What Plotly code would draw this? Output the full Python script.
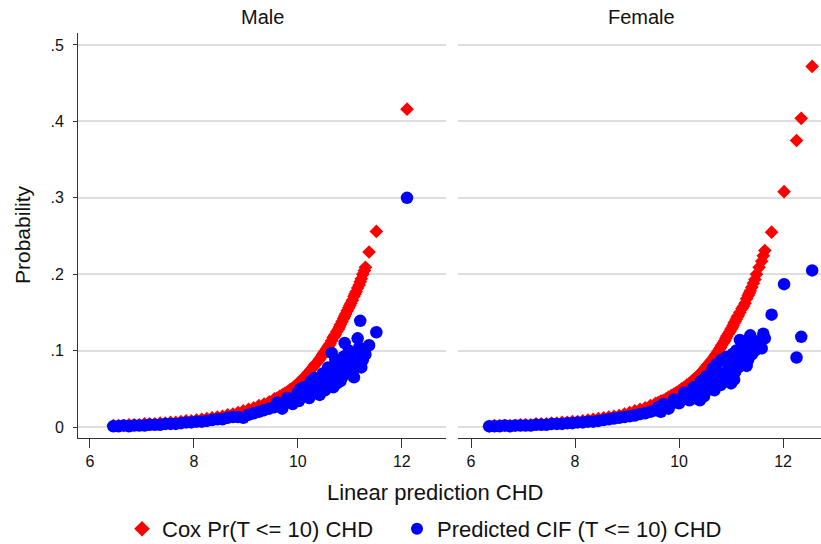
import plotly.graph_objects as go

# ---------------- data ----------------
male_lp = [6.45, 6.55, 6.65, 6.75, 6.85, 6.95, 7.05, 7.15, 7.25, 7.35, 7.45, 7.55, 7.65, 7.75,
           7.85, 7.95, 8.05, 8.15, 8.25, 8.35, 8.45, 8.55, 8.65, 8.75, 8.85, 8.95, 9.05, 9.15,
           9.25, 9.35, 9.45, 9.55, 9.65, 9.75, 9.85, 9.95, 10.0, 10.05, 10.1, 10.15, 10.2, 10.25,
           10.3, 10.35, 10.4, 10.45, 10.5, 10.55, 10.6, 10.65, 10.7, 10.75, 10.8, 10.85, 10.9,
           10.95, 11.0, 11.05, 11.1, 11.15, 11.2, 11.25, 11.3, 11.37, 11.51, 12.1,
           9.6, 9.7, 9.8, 9.9, 10.02, 10.12, 10.22, 10.32, 10.42, 10.48, 10.52, 10.58, 10.62,
           10.68, 10.72, 10.78, 10.82, 10.88, 10.92, 10.98, 11.02, 11.08, 11.12, 11.18, 11.22, 11.28]
male_cox = [0.002, 0.002, 0.002, 0.003, 0.003, 0.003, 0.004, 0.004, 0.004, 0.005, 0.005, 0.006,
            0.006, 0.007, 0.008, 0.008, 0.009, 0.010, 0.011, 0.012, 0.013, 0.014, 0.016, 0.017,
            0.019, 0.021, 0.023, 0.025, 0.028, 0.030, 0.033, 0.037, 0.040, 0.044, 0.049, 0.054,
            0.057, 0.060, 0.063, 0.067, 0.071, 0.075, 0.079, 0.083, 0.087, 0.092, 0.097, 0.102,
            0.107, 0.113, 0.119, 0.125, 0.131, 0.138, 0.145, 0.152, 0.159, 0.166, 0.174, 0.182,
            0.190, 0.200, 0.209, 0.229, 0.256, 0.416,
            0.038, 0.042, 0.046, 0.051, 0.058, 0.065, 0.072, 0.081, 0.089, 0.095, 0.099, 0.105,
            0.109, 0.117, 0.121, 0.128, 0.134, 0.142, 0.148, 0.156, 0.162, 0.171, 0.177, 0.186,
            0.194, 0.205]
male_cif = [0.001, 0.001, 0.002, 0.001, 0.002, 0.002, 0.002, 0.003, 0.003, 0.003, 0.004, 0.004,
            0.004, 0.005, 0.006, 0.006, 0.007, 0.007, 0.008, 0.009, 0.010, 0.010, 0.012, 0.013,
            0.013, 0.012, 0.016, 0.018, 0.020, 0.022, 0.024, 0.026, 0.028, 0.031, 0.034, 0.037,
            0.045, 0.050, 0.040, 0.048, 0.044, 0.060, 0.047, 0.055, 0.050, 0.060, 0.054, 0.068,
            0.060, 0.097, 0.075, 0.057, 0.082, 0.065, 0.110, 0.078, 0.090, 0.070, 0.085, 0.116,
            0.139, 0.088, 0.095, 0.107, 0.124, 0.300,
            0.032, 0.024, 0.038, 0.030, 0.034, 0.052, 0.038, 0.064, 0.042, 0.070, 0.048, 0.078,
            0.066, 0.052, 0.088, 0.070, 0.060, 0.092, 0.072, 0.100, 0.082, 0.065, 0.098, 0.104,
            0.078, 0.100]

female_lp = [6.35, 6.45, 6.55, 6.65, 6.75, 6.85, 6.95, 7.05, 7.15, 7.25, 7.35, 7.45, 7.55, 7.65,
             7.75, 7.85, 7.95, 8.05, 8.15, 8.25, 8.35, 8.45, 8.55, 8.65, 8.75, 8.85, 8.95, 9.05,
             9.15, 9.25, 9.35, 9.45, 9.55, 9.65, 9.75, 9.85, 9.95, 10.05, 10.15, 10.25, 10.3,
             10.35, 10.4, 10.45, 10.5, 10.55, 10.6, 10.65, 10.7, 10.75, 10.8, 10.85, 10.9, 10.95,
             11.0, 11.04, 11.08, 11.12, 11.17, 11.21, 11.27, 11.3, 11.33, 11.37, 11.43, 11.46,
             11.49, 11.54, 11.59, 11.62, 11.65, 11.78, 12.02, 12.26, 12.35, 12.56,
             9.6, 9.7, 9.8, 9.9, 10.0, 10.1, 10.2, 10.28, 10.38, 10.42, 10.48, 10.52, 10.58,
             10.62, 10.68, 10.72, 10.78, 10.82, 10.88, 10.92, 10.98, 11.02, 11.06, 11.1, 11.14,
             11.24, 11.35, 11.4]
female_cox = [0.001, 0.002, 0.002, 0.002, 0.002, 0.002, 0.003, 0.003, 0.003, 0.004, 0.004, 0.004,
              0.005, 0.005, 0.006, 0.006, 0.007, 0.007, 0.008, 0.009, 0.010, 0.011, 0.012, 0.013,
              0.014, 0.015, 0.017, 0.019, 0.021, 0.023, 0.025, 0.028, 0.031, 0.034, 0.037, 0.041,
              0.045, 0.050, 0.055, 0.060, 0.063, 0.066, 0.069, 0.073, 0.077, 0.081, 0.085, 0.089,
              0.094, 0.099, 0.104, 0.110, 0.116, 0.122, 0.128, 0.133, 0.138, 0.144, 0.150, 0.155,
              0.162, 0.168, 0.172, 0.178, 0.188, 0.193, 0.200, 0.209, 0.217, 0.224, 0.231, 0.255,
              0.308, 0.375, 0.404, 0.472,
              0.032, 0.035, 0.039, 0.043, 0.047, 0.052, 0.057, 0.062, 0.068, 0.071, 0.075, 0.079,
              0.083, 0.087, 0.092, 0.096, 0.102, 0.107, 0.113, 0.119, 0.125, 0.130, 0.136, 0.141,
              0.146, 0.158, 0.175, 0.183]
female_cif = [0.001, 0.001, 0.001, 0.002, 0.001, 0.002, 0.002, 0.002, 0.002, 0.003, 0.003, 0.003,
              0.004, 0.004, 0.004, 0.005, 0.005, 0.006, 0.006, 0.007, 0.007, 0.008, 0.009, 0.010,
              0.011, 0.012, 0.013, 0.014, 0.015, 0.017, 0.018, 0.020, 0.022, 0.020, 0.027, 0.030,
              0.033, 0.036, 0.040, 0.044, 0.038, 0.048, 0.035, 0.052, 0.045, 0.058, 0.050, 0.077,
              0.060, 0.066, 0.055, 0.070, 0.062, 0.080, 0.057, 0.096, 0.072, 0.085, 0.114, 0.095,
              0.105, 0.080, 0.088, 0.120, 0.110, 0.100, 0.112, 0.108, 0.103, 0.122, 0.116, 0.147,
              0.187, 0.091, 0.118, 0.205,
              0.026, 0.030, 0.024, 0.036, 0.031, 0.045, 0.035, 0.052, 0.042, 0.060, 0.040, 0.066,
              0.052, 0.070, 0.048, 0.082, 0.058, 0.088, 0.068, 0.092, 0.075, 0.085, 0.062, 0.100,
              0.078, 0.092, 0.112, 0.095]

panel_titles = ["Male", "Female"]
legend_names = ["Cox Pr(T <= 10) CHD", "Predicted CIF (T <= 10) CHD"]
x_ticks = [6, 8, 10, 12]
x_ticktext = ["6", "8", "10", "12"]
y_ticks = [0, 0.1, 0.2, 0.3, 0.4, 0.5]
y_ticktext = ["0", ".1", ".2", ".3", ".4", ".5"]

# ---------------- figure ----------------
W, H = 821, 544
FONT = "Liberation Sans, Arial, sans-serif"
RED = "#ff0000"
BLUE = "#0000ff"
GRID = "#dedede"
AX = "#333333"

fig = go.Figure()

panels = [(male_lp, male_cox, male_cif, "x", "y"),
          (female_lp, female_cox, female_cif, "x2", "y2")]
for i, (lp, cox, cif, xa, ya) in enumerate(panels):
    fig.add_trace(go.Scatter(x=lp, y=cox, mode="markers", xaxis=xa, yaxis=ya,
                             name=legend_names[0], legendgroup="cox", showlegend=(i == 0),
                             legend="legend",
                             marker=dict(symbol="diamond", size=10.5, color=RED,
                                         line=dict(width=0))))
    fig.add_trace(go.Scatter(x=lp, y=cif, mode="markers", xaxis=xa, yaxis=ya,
                             name=legend_names[1], legendgroup="cif", showlegend=(i == 0),
                             legend="legend2",
                             marker=dict(symbol="circle", size=12.5, color=BLUE,
                                         line=dict(width=0))))

ydom = [1 - 438 / H, 1 - 33 / H]
yrange = [-0.0144, 0.5157]
common_x = dict(tickmode="array", tickvals=x_ticks, ticktext=x_ticktext, ticks="outside",
                ticklen=9, tickcolor=AX, tickwidth=1, showline=True, linecolor=AX, linewidth=1,
                showgrid=False, zeroline=False, tickfont=dict(family=FONT, size=16, color="#111"))
common_y = dict(range=yrange, domain=ydom, tickmode="array", tickvals=y_ticks,
                showgrid=True, gridcolor=GRID, gridwidth=1.5, zeroline=False)

leg_common = dict(orientation="h", xanchor="left", y=1 - 529 / H, yanchor="middle",
                  font=dict(family=FONT, size=22, color="#111"), bgcolor="rgba(0,0,0,0)",
                  itemsizing="constant")

fig.update_layout(
    width=W, height=H,
    margin=dict(l=0, r=0, t=0, b=0, autoexpand=False),
    paper_bgcolor="white", plot_bgcolor="white",
    font=dict(family=FONT, size=16, color="#111"),
    xaxis=dict(domain=[78 / W, 446 / W], range=[5.77, 12.85], anchor="y", **common_x),
    xaxis2=dict(domain=[458 / W, 1.0], range=[5.75, 12.73], anchor="y2", **common_x),
    yaxis=dict(anchor="x", ticktext=y_ticktext, ticks="outside", ticklen=4, tickcolor=AX,
               showline=True, linecolor=AX, linewidth=1, ticklabelstandoff=6,
               tickfont=dict(family=FONT, size=16, color="#111"), **common_y),
    yaxis2=dict(anchor="x2", showticklabels=False, ticks="", showline=False, **common_y),
    showlegend=True,
    legend=dict(x=(143 - 21) / W, **leg_common),
    legend2=dict(x=(418 - 21) / W, **leg_common),
)

annos = [
    dict(text=panel_titles[0], x=262 / W, y=1 - 17 / H, size=20),
    dict(text=panel_titles[1], x=641 / W, y=1 - 17 / H, size=20),
    dict(text="Linear prediction CHD", x=435 / W, y=1 - 492 / H, size=22),
    dict(text="Probability", x=22 / W, y=1 - 235 / H, textangle=-90, size=21),
]
for a in annos:
    sz = a.pop("size")
    fig.add_annotation(xref="paper", yref="paper", xanchor="center", yanchor="middle",
                       showarrow=False, font=dict(family=FONT, size=sz, color="#111"), **a)

fig.write_html("out.html")
